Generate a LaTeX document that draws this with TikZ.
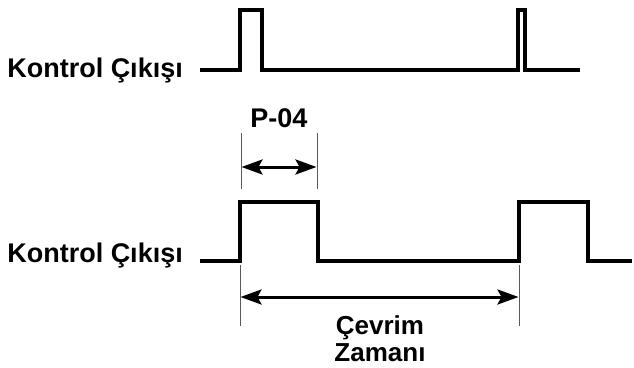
\documentclass[tikz,border=0pt]{standalone}
\usepackage{fontspec}
\setmainfont{Liberation Sans}
\usepackage{tikz}
\usetikzlibrary{arrows.meta,positioning}

\begin{document}
\begin{tikzpicture}[x=1pt,y=-1pt,
  lbl/.style={font=\fontsize{27}{25}\selectfont\bfseries,inner sep=0pt},
  signal/.style={line width=4pt,line join=miter,black},
  extline/.style={line width=1pt,gray!70!black},
  dimarrow/.style={line width=3pt,{Stealth[length=21pt,width=15pt,inset=4pt]}-{Stealth[length=21pt,width=15pt,inset=4pt]},shorten <=0.5pt,shorten >=0.5pt}]
\useasboundingbox (0,0) rectangle (634,367);

% Top output signal
\node[lbl,anchor=base east] (ktop) at (183,77) {Kontrol Çıkışı};
\coordinate (ts) at (200,70);
\coordinate (te) at (580,70);
\draw[signal] (ts) -- (240,70) -- (240,10) -- (262,10) -- (262,70)
  -- (518,70) -- (518,10) -- (525,10) -- (525,70) -- (te);

% Bottom output signal
\node[lbl,anchor=base east] (kbot) at (183,262) {Kontrol Çıkışı};
\coordinate (bs) at (200,261);
\coordinate (be) at (632,261);
\draw[signal] (bs) -- (240,261) -- (240,202) -- (318,202) -- (318,261)
  -- (519,261) -- (519,202) -- (588,202) -- (588,261) -- (be);

% P-04 dimension
\draw[extline] (241,133) -- (241,189);
\draw[extline] (317,133) -- (317,189);
\coordinate (pa) at (241,167);
\coordinate (pb) at (317,167);
\draw[dimarrow] (pa) -- (pb);
\node[lbl,anchor=base] (p04) at (279,127) {P-04};

% Cycle time dimension
\draw[extline] (240,265) -- (240,326);
\draw[extline] (519,265) -- (519,326);
\coordinate (ca) at (240,297);
\coordinate (cb) at (519,297);
\draw[dimarrow] (ca) -- (cb);
\node[lbl,anchor=base,align=center,font=\fontsize{26}{27}\selectfont\bfseries] (cyc) at (380,361) {Çevrim\\Zamanı};
\end{tikzpicture}
\end{document}
